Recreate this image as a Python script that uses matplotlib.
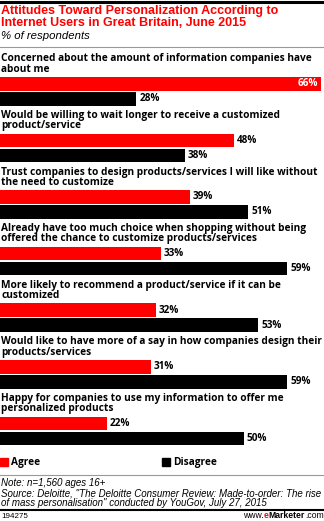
import matplotlib.pyplot as plt
from matplotlib.lines import Line2D
from matplotlib.patches import Rectangle

W, H = 324, 521

categories = [
    "Concerned about the amount of information companies have\nabout me",
    "Would be willing to wait longer to receive a customized\nproduct/service",
    "Trust companies to design products/services I will like without\nthe need to customize",
    "Already have too much choice when shopping without being\noffered the chance to customize products/services",
    "More likely to recommend a product/service if it can be\ncustomized",
    "Would like to have more of a say in how companies design their\nproducts/services",
    "Happy for companies to use my information to offer me\npersonalized products",
]
agree = [66, 48, 39, 33, 32, 31, 22]
disagree = [28, 38, 51, 59, 53, 59, 50]

RED = "#ff0000"
BLACK = "#000000"
FONT = "Liberation Sans"
LFONT = "Open Sans"


def px(x, y):
    return x / W, 1 - y / H


fig = plt.figure(figsize=(W / 100, H / 100), dpi=100)
fig.patch.set_facecolor("white")

# bars axes: whole figure, x in percent, y in pixels (inverted)
ax = fig.add_axes([0, 0, 1, 1])
ax.set_xlim(0, W / 4.87)
ax.set_ylim(H, 0)
ax.axis("off")

first_red = 77
pitch = 56.6
bh = 13.5
for i, (cat, a, d) in enumerate(zip(categories, agree, disagree)):
    y0 = first_red + i * pitch
    ya = y0 + bh / 2
    yd = y0 + bh + 1.5 + bh / 2
    ax.barh(ya, a, height=bh, color=RED, edgecolor="none")
    ax.barh(yd, d, height=bh, color=BLACK, edgecolor="none")
    if a >= 60:
        ax.text(a - 0.6, ya, f"{a}%", color="white", fontsize=7.2, fontweight="bold",
                family=LFONT, ha="right", va="center")
    else:
        ax.text(a + 0.6, ya, f"{a}%", color="black", fontsize=7.2, fontweight="bold",
                family=LFONT, ha="left", va="center")
    ax.text(d + 0.6, yd, f"{d}%", color="black", fontsize=7.2, fontweight="bold",
            family=LFONT, ha="left", va="center")
    ax.text(1 / 4.87, y0 - 2.5, cat, color="black", fontsize=7.3, fontweight="bold",
            family=LFONT, ha="left", va="bottom", linespacing=0.88)

# title block
fig.text(*px(1, 5), "Attitudes Toward Personalization According to\nInternet Users in Great Britain, June 2015",
         color=RED, fontsize=9.0, fontweight="bold", family=FONT, va="top", linespacing=1.0)
fig.text(*px(1, 31), "% of respondents", color="black", fontsize=8.2, style="italic",
         family=FONT, va="top")

# rules
fig.add_artist(Line2D([0, 1], [1 - 1.5 / H] * 2, color="black", lw=2.2))
fig.add_artist(Line2D([0, 1], [1 - 46.5 / H] * 2, color="#999999", lw=0.8))
fig.add_artist(Line2D([0, 1], [1 - 475 / H] * 2, color="#999999", lw=0.8))
fig.add_artist(Line2D([0, 1], [1 - 509.5 / H] * 2, color="black", lw=1.5))

# legend
for x0, c, lab in [(0, RED, "Agree"), (162, BLACK, "Disagree")]:
    fig.add_artist(Rectangle(px(x0, 466), 8 / W, 8 / H, color=c))
    fig.text(*px(x0 + 11, 462), lab, color="black", fontsize=7.3, fontweight="bold",
             family=LFONT, va="center")

# notes
fig.text(*px(1, 478), "Note: n=1,560 ages 16+\nSource: Deloitte, \"The Deloitte Consumer Review: Made-to-order: The rise\nof mass personalisation\" conducted by YouGov, July 27, 2015",
         color="black", fontsize=7.0, style="italic", family=FONT, va="top", linespacing=1.03)

# footer: lay the pieces out left to right after measuring them
fig.text(*px(1, 516), "194275", color="black", fontsize=5.8, family=FONT, va="center")
parts = [("www.", "black", "normal"), ("e", RED, "bold"),
         ("Marketer", "black", "bold"), (".com", "black", "normal")]
fig.canvas.draw()
renderer = fig.canvas.get_renderer()
texts = [fig.text(0, 0, p, color=c, fontsize=6.2, fontweight=w, family=FONT,
                  va="baseline", ha="left") for p, c, w in parts]
widths = [t.get_window_extent(renderer).width for t in texts]
x = W - 0.5 - sum(widths)
for t, w in zip(texts, widths):
    t.set_position(px(x, 518.5))
    x += w

fig.savefig("out.png", dpi=100)
